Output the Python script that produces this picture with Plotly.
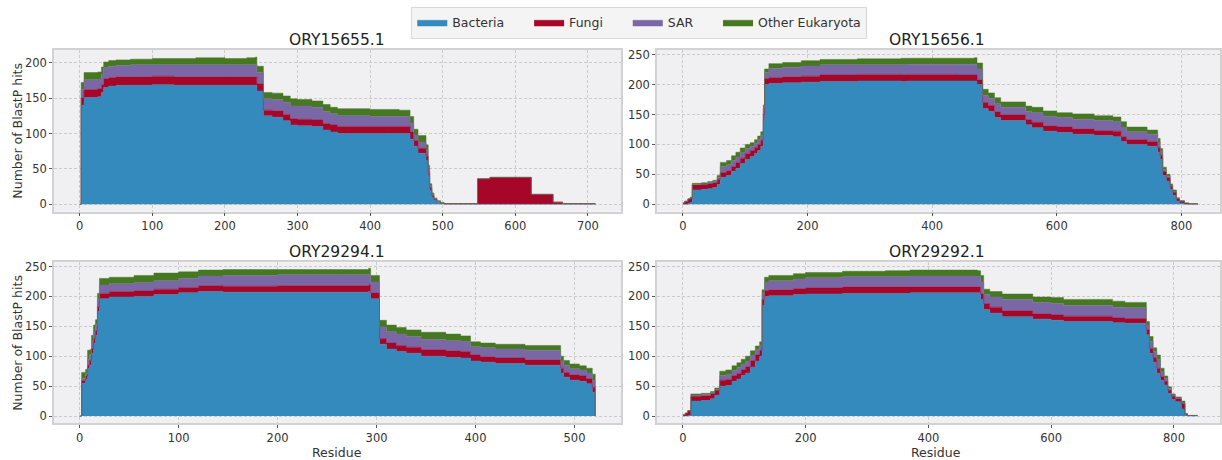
import plotly.graph_objects as go

W, H = 1222, 460

COLORS = {"Bacteria": "#348ABD", "Fungi": "#A60628", "SAR": "#7A68A6", "Other Eukaryota": "#467821"}
GROUPS = ["Bacteria", "Fungi", "SAR", "Other Eukaryota"]

# ---------------- ORY15655.1 ----------------
p1_title = "ORY15655.1"
p1_x = [0, 2, 6, 25, 30, 33, 40, 50, 70, 100, 130, 160, 200, 230, 242, 244, 253, 265, 280, 290, 300, 320,
        335, 345, 355, 400, 440, 455, 460, 466, 477, 480, 482, 485, 488, 492, 497, 502, 548, 565, 622, 652, 665, 710]
p1_bac = [0, 140, 151, 152, 158, 165, 167, 168, 168, 169, 168, 168, 168, 168, 168, 160, 125, 123, 118, 112, 111, 110,
          105, 102, 100, 100, 100, 92, 82, 72, 62, 40, 20, 10, 6, 3, 1, 0, 0, 0, 0, 0, 0, 0]
p1_fun = [0, 10, 11, 11, 11, 12, 12, 12, 12, 12, 12, 12, 12, 12, 12, 10, 8, 9, 9, 9, 9, 9,
          9, 10, 10, 10, 10, 10, 8, 7, 6, 5, 3, 2, 1, 1, 1, 1, 36, 38, 14, 3, 1, 0]
p1_sar = [0, 12, 14, 14, 15, 16, 16, 16, 17, 16, 17, 17, 17, 17, 18, 16, 16, 16, 17, 18, 19, 18,
          17, 16, 15, 14, 14, 12, 8, 9, 8, 5, 3, 2, 1, 0, 0, 0, 0, 0, 0, 0, 0, 0]
p1_oth = [0, 10, 10, 10, 10, 8, 8, 8, 8, 9, 9, 10, 9, 10, 10, 9, 9, 9, 9, 10, 9, 9,
          10, 9, 10, 10, 9, 10, 8, 9, 8, 5, 3, 2, 1, 1, 0, 0, 0, 0, 0, 0, 0, 0]

# ---------------- ORY15656.1 ----------------
p2_title = "ORY15656.1"
p2_x = [0, 3, 8, 12, 15, 30, 40, 48, 55, 60, 70, 78, 85, 92, 100, 108, 115, 120, 125, 129, 131, 138, 160, 190,
        220, 280, 350, 360, 440, 468, 472, 481, 490, 500, 510, 550, 560, 578, 600, 625, 660, 690, 703, 712, 745,
        762, 766, 770, 776, 782, 786, 792, 797, 805, 812, 826]
p2_bac = [0, 0, 2, 3, 24, 25, 26, 28, 33, 45, 48, 55, 60, 68, 75, 80, 85, 90, 97, 140, 200, 202, 203, 204,
          205, 206, 205, 206, 206, 206, 200, 160, 155, 145, 140, 133, 128, 122, 120, 117, 115, 113, 105, 100, 97,
          87, 75, 48, 38, 25, 15, 5, 2, 0, 0, 0]
p2_fun = [2, 5, 7, 8, 8, 8, 8, 8, 9, 8, 8, 8, 9, 9, 10, 10, 10, 10, 10, 10, 10, 10, 10, 10,
          11, 11, 11, 11, 10, 10, 8, 10, 10, 9, 9, 8, 9, 9, 9, 9, 8, 9, 8, 8, 8,
          8, 7, 6, 6, 5, 5, 4, 3, 2, 1, 0]
p2_sar = [0, 0, 0, 0, 1, 1, 2, 2, 3, 10, 10, 10, 10, 9, 8, 7, 7, 8, 8, 10, 10, 15, 16, 17,
          17, 16, 17, 17, 18, 18, 18, 12, 12, 14, 13, 14, 16, 16, 16, 16, 17, 16, 16, 13, 12,
          9, 6, 4, 3, 2, 2, 1, 1, 0, 0, 0]
p2_oth = [0, 0, 0, 1, 2, 2, 2, 2, 3, 7, 7, 8, 8, 8, 7, 6, 6, 6, 6, 6, 6, 8, 8, 9,
          9, 10, 11, 10, 10, 11, 10, 10, 9, 10, 9, 9, 9, 9, 8, 9, 8, 8, 9, 8, 7,
          6, 5, 4, 3, 2, 2, 1, 0, 0, 0, 0]

# ---------------- ORY29294.1 ----------------
p3_title = "ORY29294.1"
p3_x = [0, 2, 6, 8, 10, 12, 14, 16, 18, 20, 30, 55, 75, 100, 120, 145, 200, 260, 292, 294, 303, 310, 320,
        330, 345, 370, 385, 395, 405, 420, 450, 486, 489, 495, 505, 512, 518, 521]
p3_bac = [0, 55, 62, 80, 85, 105, 122, 135, 175, 196, 199, 200, 203, 206, 208, 207, 207, 207, 208, 196, 120, 112, 108,
          105, 100, 98, 97, 92, 90, 88, 85, 72, 65, 60, 58, 54, 40, 0]
p3_fun = [0, 4, 5, 5, 8, 8, 8, 8, 8, 9, 9, 9, 9, 9, 10, 10, 11, 11, 11, 10, 9, 10, 10,
          10, 11, 11, 11, 10, 9, 9, 9, 8, 8, 9, 9, 8, 8, 0]
p3_sar = [0, 4, 4, 10, 10, 12, 12, 10, 12, 14, 13, 14, 14, 15, 16, 18, 18, 18, 18, 18, 20, 19, 19,
          18, 17, 17, 16, 14, 15, 15, 16, 12, 12, 10, 10, 10, 12, 0]
p3_oth = [0, 10, 7, 15, 8, 10, 10, 8, 10, 11, 11, 12, 13, 11, 10, 10, 9, 9, 10, 11, 11, 11, 11,
          11, 12, 11, 10, 8, 8, 8, 8, 8, 8, 8, 7, 8, 10, 0]

# ---------------- ORY29292.1 ----------------
p4_title = "ORY29292.1"
p4_x = [0, 4, 8, 13, 30, 45, 52, 60, 70, 80, 88, 95, 102, 110, 118, 125, 129, 133, 140, 180, 200, 260, 330, 370,
        480, 485, 490, 500, 520, 570, 600, 620, 700, 720, 755, 760, 766, 772, 778, 784, 790, 796, 802, 812, 818,
        822, 838]
p4_bac = [0, 0, 1, 25, 26, 29, 35, 50, 51, 58, 62, 68, 72, 82, 92, 100, 185, 200, 201, 203, 204, 205, 205, 206,
          206, 195, 178, 172, 166, 162, 160, 158, 156, 155, 136, 105, 90, 72, 60, 52, 38, 28, 24, 12, 2,
          0, 0]
p4_fun = [2, 5, 8, 8, 8, 8, 8, 10, 10, 9, 9, 9, 10, 10, 10, 10, 10, 10, 10, 10, 10, 11, 11, 10,
          10, 9, 10, 10, 10, 9, 9, 9, 8, 8, 8, 8, 8, 8, 6, 6, 5, 5, 5, 8, 2,
          1, 0]
p4_sar = [0, 0, 0, 2, 2, 2, 2, 8, 8, 9, 10, 10, 10, 10, 9, 8, 10, 14, 15, 16, 17, 17, 17, 18,
          17, 20, 15, 17, 19, 19, 19, 18, 18, 18, 8, 12, 10, 14, 8, 5, 3, 2, 1, 2, 0,
          0, 0]
p4_oth = [0, 0, 0, 2, 2, 2, 2, 7, 8, 8, 8, 8, 8, 7, 6, 6, 6, 8, 9, 9, 9, 9, 10, 10,
          10, 11, 9, 9, 9, 9, 10, 10, 10, 9, 6, 8, 6, 8, 6, 4, 3, 2, 2, 3, 0,
          0, 0]

panels = [
    (p1_title, p1_x, [p1_bac, p1_fun, p1_sar, p1_oth]),
    (p2_title, p2_x, [p2_bac, p2_fun, p2_sar, p2_oth]),
    (p3_title, p3_x, [p3_bac, p3_fun, p3_sar, p3_oth]),
    (p4_title, p4_x, [p4_bac, p4_fun, p4_sar, p4_oth]),
]

# layout geometry (pixels)
col_x = [(54, 622), (658, 1222)]
row_y = [(47, 210), (261, 423)]
xranges = [[-35.5, 745.5], [-41.7, 862], [-26, 547], [-42.3, 875]]
yranges = [[-10.4, 218.4], [-12.3, 258.3], [-12, 257], [-12, 257]]
xdticks = [100, 200, 100, 200]

FONT = "DejaVu Sans"
PAD = "\u00a0" * 5  # spacing between legend entries
fig = go.Figure()

for i, (title, xs, series) in enumerate(panels):
    ax = "" if i == 0 else str(i + 1)
    for g, vals in zip(GROUPS, series):
        fig.add_trace(go.Scatter(
            x=xs, y=vals, name=(g + PAD if g != GROUPS[-1] else g), mode="lines",
            line=dict(shape="hv", width=0.5, color=COLORS[g]),
            fillcolor=COLORS[g], stackgroup="s%d" % i,
            legendgroup=g, showlegend=(i == 0),
            xaxis="x" + ax, yaxis="y" + ax,
        ))

grid = dict(showgrid=True, gridcolor="#cbcbcb", griddash="3px,2px", gridwidth=0.8,
            zeroline=False, showline=True, mirror=True, linecolor="#d2d2d2", linewidth=1.5,
            ticks="outside", ticklen=3, tickcolor="#555555", tickfont=dict(size=11.5, color="#333333"))

layout = dict(
    width=W, height=H, margin=dict(l=0, r=0, t=0, b=0),
    paper_bgcolor="white", plot_bgcolor="#f0f0f2",
    font=dict(family=FONT, size=11.5, color="#333333"),
    showlegend=True,
    legend=dict(orientation="h", x=0.524, xanchor="center", y=0.992, yanchor="top",
                bgcolor="#f4f4f4", bordercolor="#d8d8d8", borderwidth=1,
                font=dict(size=12.5, color="#333333"), itemwidth=30, traceorder="normal"),
    annotations=[],
)

for i in range(4):
    r, c = divmod(i, 2)
    ax = "" if i == 0 else str(i + 1)
    x0, x1 = col_x[c]
    y0, y1 = row_y[r]
    layout["xaxis" + ax] = dict(domain=[x0 / W, x1 / W], anchor="y" + ax, range=xranges[i],
                                dtick=xdticks[i], tick0=0, **grid)
    layout["yaxis" + ax] = dict(domain=[1 - y1 / H, 1 - y0 / H], anchor="x" + ax, range=yranges[i],
                                dtick=50, tick0=0, **grid)
    layout["annotations"].append(dict(
        text=panels[i][0], xref="paper", yref="paper", x=(x0 + x1) / 2 / W - (0.0015 if c == 1 else 0),
        y=1 - (y0 - 10) / H, xanchor="center", yanchor="middle", showarrow=False,
        font=dict(family=FONT, size=15.5, color="#222222"),
    ))
    if c == 0:
        layout["annotations"].append(dict(
            text="Number of BlastP hits", xref="paper", yref="paper", x=18 / W,
            y=1 - (y0 + y1) / 2 / H, textangle=-90, xanchor="center", yanchor="middle",
            showarrow=False, font=dict(family=FONT, size=12.5, color="#333333"),
        ))
    if r == 1:
        layout["annotations"].append(dict(
            text="Residue", xref="paper", yref="paper", x=((x0 + x1) / 2 - (2 if c == 1 else 0)) / W,
            y=1 - 452 / H, xanchor="center", yanchor="middle",
            showarrow=False, font=dict(family=FONT, size=12.5, color="#333333"),
        ))

fig.update_layout(**layout)
fig.write_html("out.html")
